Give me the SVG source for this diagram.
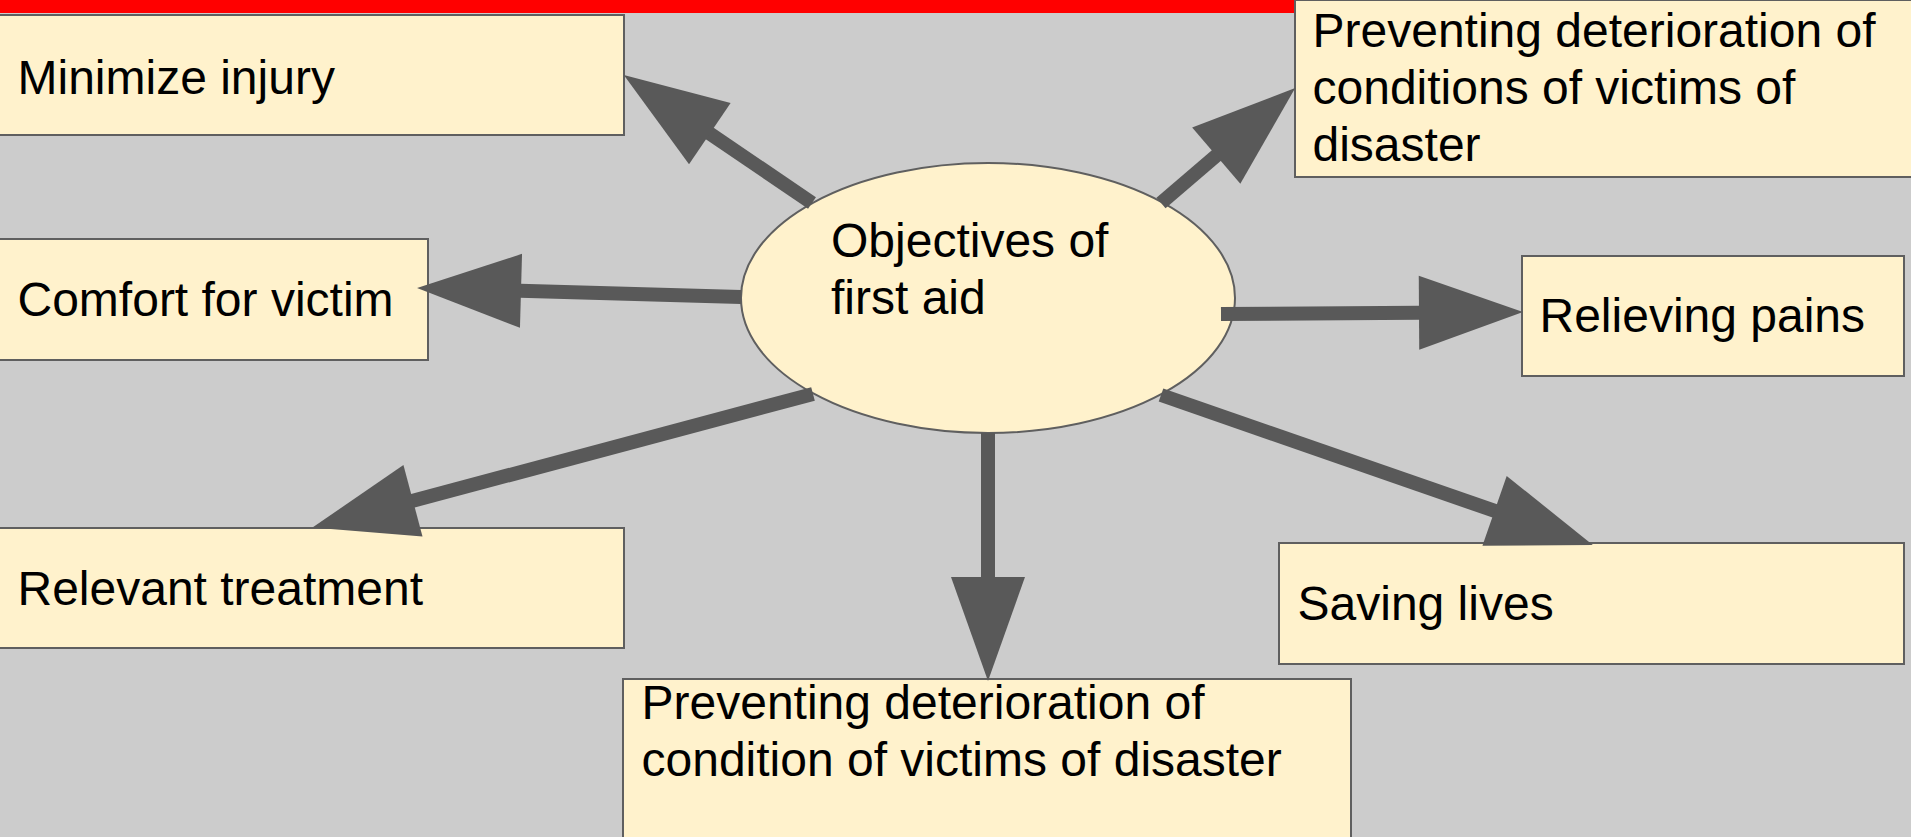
<svg xmlns="http://www.w3.org/2000/svg" width="1911" height="837" viewBox="0 0 1911 837">
<style>
.box{fill:#fff2cc;stroke:#5f5f5f;stroke-width:2}
.t{font-family:"Liberation Sans",Arial,sans-serif;font-size:48px;fill:#000}
.c{stroke:#595959;stroke-width:14;fill:none;marker-end:url(#ah)}
</style>
<defs>
<marker id="ah" markerUnits="userSpaceOnUse" viewBox="0 0 104 74" markerWidth="104" markerHeight="74" refX="1" refY="37" orient="auto" overflow="visible">
<path d="M0,0 L104,37 L0,74 Z" fill="#595959"/>
</marker>
</defs>
<rect x="0" y="0" width="1911" height="837" fill="#cccccc"/>
<rect x="0" y="0" width="1911" height="13" fill="#ff0000"/>
<g id="minimize">
<rect class="box" x="-1" y="15" width="625" height="120"/>
<text class="t" x="17.5" y="94">Minimize injury</text>
</g>
<g id="comfort">
<rect class="box" x="-1" y="239" width="429" height="121"/>
<text class="t" x="17.5" y="316">Comfort for victim</text>
</g>
<g id="relevant">
<rect class="box" x="-1" y="528" width="625" height="120"/>
<text class="t" x="17.5" y="605">Relevant treatment</text>
</g>
<g id="preventing-bottom">
<rect class="box" x="623" y="679" width="728" height="170"/>
<text class="t" x="641.5" y="719">Preventing deterioration of</text>
<text class="t" x="641.5" y="776">condition of victims of disaster</text>
</g>
<g id="preventing-top">
<rect class="box" x="1295" y="0" width="630" height="177"/>
<text class="t" x="1312.5" y="47">Preventing deterioration of</text>
<text class="t" x="1312.5" y="104">conditions of victims of</text>
<text class="t" x="1312.5" y="161">disaster</text>
</g>
<g id="relieving">
<rect class="box" x="1522" y="256" width="382" height="120"/>
<text class="t" x="1539.5" y="332">Relieving pains</text>
</g>
<g id="saving">
<rect class="box" x="1279" y="543" width="625" height="121"/>
<text class="t" x="1297.5" y="620">Saving lives</text>
</g>
<g id="center">
<ellipse cx="988" cy="298" rx="247" ry="135" fill="#fff2cc" stroke="#5f5f5f" stroke-width="2"/>
<text class="t" x="831" y="257">Objectives of</text>
<text class="t" x="831" y="314">first aid</text>
</g>
<g id="connectors">
<line class="c" x1="812" y1="203" x2="709" y2="133"/>
<line class="c" x1="741" y1="297" x2="520" y2="290.8"/>
<line class="c" x1="813" y1="394" x2="412" y2="501"/>
<line class="c" x1="988" y1="433" x2="988" y2="578"/>
<line class="c" x1="1161" y1="395" x2="1495.5" y2="511.2"/>
<line class="c" x1="1221" y1="314" x2="1420" y2="312.7"/>
<line class="c" x1="1161" y1="203" x2="1217" y2="155"/>
</g>
</svg>
